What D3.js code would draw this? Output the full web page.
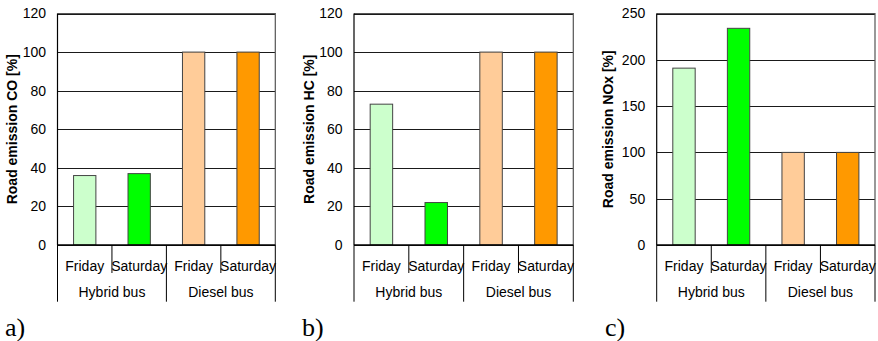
<!DOCTYPE html>
<html>
<head>
<meta charset="utf-8">
<script src="https://cdn.jsdelivr.net/npm/d3@7"></script>
<style>
  html, body { margin: 0; padding: 0; background: #fff; }
  svg { display: block; }
  text { font-family: "Liberation Sans", Arial, sans-serif; fill: #000; }
</style>
</head>
<body>
<svg id="chart" width="878" height="341"></svg>
<script>
// Categories: day within each bus type
const days = ["Friday", "Saturday", "Friday", "Saturday"];
const buses = ["Hybrid bus", "Diesel bus"];
const barColors = ["#ccffcc", "#00ff00", "#ffcc99", "#ff9900"];

// Road emission relative to the diesel bus [%]
const coValues = [36, 37, 100, 100];
const hcValues = [73, 22, 100, 100];
const noxValues = [191, 234, 100, 100];

// Y-axis tick labels per panel
const coTicks = [0, 20, 40, 60, 80, 100, 120];
const hcTicks = [0, 20, 40, 60, 80, 100, 120];
const noxTicks = [0, 50, 100, 150, 200, 250];

const titles = ["Road emission CO [%]", "Road emission HC [%]", "Road emission NOx [%]"];
const panelLetters = ["a)", "b)", "c)"];

const svg = d3.select("#chart");

const panels = [
  { values: coValues, ticks: coTicks, left: 57.5, right: 275.3, titleX: 12, letterX: 5 },
  { values: hcValues, ticks: hcTicks, left: 354, right: 573.3, titleX: 308.5, letterX: 302 },
  { values: noxValues, ticks: noxTicks, left: 656.7, right: 875, titleX: 608, letterX: 605 }
];

const plotTop = 13.5, plotBottom = 245;

panels.forEach((p, i) => {
  const g = svg.append("g");
  const w = p.right - p.left;

  const x = d3.scaleBand().domain(d3.range(days.length)).range([p.left, p.right]).padding(0);
  const y = d3.scaleLinear().domain([0, d3.max(p.ticks)]).range([plotBottom, plotTop]);

  // gridlines
  g.append("g")
    .attr("transform", `translate(${p.left},0)`)
    .call(d3.axisLeft(y).tickValues(p.ticks).tickSize(-w).tickFormat(""))
    .call(a => a.select(".domain").remove())
    .call(a => a.selectAll("line").attr("stroke", "#1a1a1a").attr("stroke-width", 1)
      .attr("shape-rendering", "crispEdges"));

  // plot frame (top and right)
  g.append("path")
    .attr("d", `M${p.left},${plotTop}H${p.right}V${plotBottom}`)
    .attr("fill", "none").attr("stroke", "#555").attr("stroke-width", 1.2);

  // bars
  const barW = x.bandwidth() * 0.41;
  g.selectAll("rect.bar").data(p.values).join("rect")
    .attr("class", "bar")
    .attr("x", (d, j) => x(j) + (x.bandwidth() - barW) / 2)
    .attr("width", barW)
    .attr("y", d => y(d))
    .attr("height", d => y(0) - y(d))
    .attr("fill", (d, j) => barColors[j])
    .attr("stroke", "#444").attr("stroke-width", 1);

  // y tick labels
  g.append("g")
    .attr("transform", `translate(${p.left},0)`)
    .call(d3.axisLeft(y).tickValues(p.ticks).tickSize(0).tickPadding(11.5))
    .call(a => a.select(".domain").remove())
    .call(a => a.selectAll("text").attr("font-size", 14)
      .attr("font-family", "Liberation Sans, Arial, sans-serif").attr("fill", "#000"));

  // left axis line
  g.append("line").attr("x1", p.left).attr("x2", p.left).attr("y1", plotTop).attr("y2", plotBottom)
    .attr("stroke", "#000").attr("stroke-width", 1.2);

  // category separators below the baseline
  const bounds = d3.range(days.length + 1).map(k => k < days.length ? x(k) : p.right);
  g.selectAll("line.sep").data(bounds).join("line")
    .attr("class", "sep")
    .attr("x1", d => d).attr("x2", d => d)
    .attr("y1", plotBottom)
    .attr("y2", (d, k) => k % 2 === 0 ? 301.7 : 273)
    .attr("stroke", "#000").attr("stroke-width", 1);

  // baseline
  g.append("line").attr("x1", p.left).attr("x2", p.right).attr("y1", plotBottom).attr("y2", plotBottom)
    .attr("stroke", "#000").attr("stroke-width", 1.6);

  // day labels
  g.selectAll("text.day").data(days).join("text")
    .attr("class", "day")
    .attr("x", (d, j) => x(j) + x.bandwidth() / 2)
    .attr("y", 270.5)
    .attr("text-anchor", "middle")
    .attr("font-size", 14)
    .text(d => d);

  // bus labels
  g.selectAll("text.bus").data(buses).join("text")
    .attr("class", "bus")
    .attr("x", (d, j) => x(j * 2) + x.bandwidth())
    .attr("y", 297)
    .attr("text-anchor", "middle")
    .attr("font-size", 14)
    .text(d => d);

  // y axis title
  g.append("text")
    .attr("transform", `translate(${p.titleX},${(plotTop + plotBottom) / 2}) rotate(-90)`)
    .attr("text-anchor", "middle")
    .attr("dominant-baseline", "central")
    .attr("font-size", 14)
    .attr("font-weight", "bold")
    .text(titles[i]);

  // panel letter
  g.append("text")
    .attr("x", p.letterX)
    .attr("y", 336)
    .style("font-family", "'Liberation Serif', 'Times New Roman', serif")
    .attr("font-size", 26)
    .text(panelLetters[i]);
});
</script>
</body>
</html>
